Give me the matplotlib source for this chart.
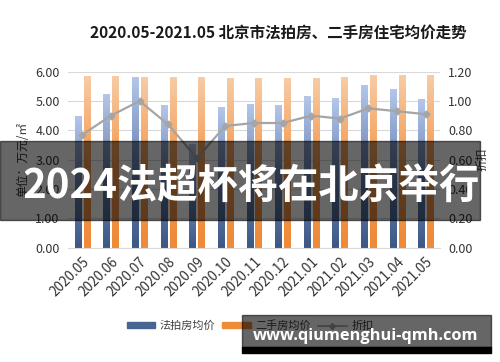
import numpy as np
import matplotlib
matplotlib.use('Agg')
import matplotlib.pyplot as plt
from matplotlib.colors import LinearSegmentedColormap
from matplotlib.lines import Line2D
from matplotlib.patches import Patch, Rectangle

plt.rcParams['font.family'] = ['Noto Sans CJK SC', 'DejaVu Sans']

# 数据
months = ['2020.05', '2020.06', '2020.07', '2020.08', '2020.09', '2020.10', '2020.11',
          '2020.12', '2021.01', '2021.02', '2021.03', '2021.04', '2021.05']
auction_price = [4.50, 5.25, 5.80, 4.87, 3.52, 4.80, 4.90, 4.86, 5.17, 5.09, 5.55, 5.41, 5.06]
resale_price = [5.86, 5.86, 5.82, 5.82, 5.80, 5.78, 5.78, 5.78, 5.78, 5.82, 5.87, 5.87, 5.89]
discount = [0.77, 0.90, 1.00, 0.84, 0.61, 0.83, 0.85, 0.85, 0.90, 0.88, 0.95, 0.93, 0.91]

title = '2020.05-2021.05 北京市法拍房、二手房住宅均价走势'
banner = '2024法超杯将在北京举行'
site = 'www.qiumenghui-qmh.com'

blue_cmap = LinearSegmentedColormap.from_list('b', ['#3e5886', '#6f88b6', '#b3c6ea'])
orange_cmap = LinearSegmentedColormap.from_list('o', ['#ee8a38', '#f39a50', '#f7cba6'])

fig = plt.figure(figsize=(5, 3.62), dpi=100)
ax = fig.add_axes([0.136, 0.316, 0.744, 0.486])
x = np.arange(len(months))
w = 0.21

# 渐变柱子
def gradient_bars(xs, heights, cmap):
    for xi, h in zip(xs, heights):
        grad = np.linspace(0, 1, 100).reshape(-1, 1)
        ax.imshow(grad, extent=[xi - w / 2, xi + w / 2, 0, h], origin='lower',
                  aspect='auto', cmap=cmap, zorder=2)

gradient_bars(x - 0.155, auction_price, blue_cmap)
gradient_bars(x + 0.155, resale_price, orange_cmap)

ax.set_xlim(-0.5, len(months) - 0.5)
ax.set_ylim(0, 6)
ax.set_yticks(np.arange(0, 7, 1))
ax.set_yticklabels(['%.2f' % v for v in np.arange(0, 7, 1)])
ax.set_xticks(x)
ax.set_xticklabels(months, rotation=45, ha='right', rotation_mode='anchor')
ax.tick_params(axis='both', length=0, labelsize=9, colors='#333333')
ax.tick_params(axis='x', pad=5, labelsize=9.8)
ax.tick_params(axis='y', pad=6)
ax.grid(axis='y', color='#d9d9d9', linewidth=0.8, zorder=0)
ax.set_axisbelow(True)
for s in ['top', 'right', 'left']:
    ax.spines[s].set_visible(False)
ax.spines['bottom'].set_color('#d9d9d9')
ax.set_ylabel('单位：万元/㎡', fontsize=8.5, color='#333333', labelpad=4)

ax2 = ax.twinx()
ax2.plot(x, discount, color='#a5a5a5', linewidth=1.6, marker='D', markersize=3.5, zorder=3)
ax2.set_ylim(0, 1.2)
ax2.set_yticks(np.arange(0, 1.21, 0.2))
ax2.set_yticklabels(['%.2f' % v for v in np.arange(0, 1.21, 0.2)])
ax2.tick_params(axis='y', length=0, labelsize=9, colors='#333333', pad=6)
for s in ['top', 'right', 'left', 'bottom']:
    ax2.spines[s].set_visible(False)
ax2.set_ylabel('折扣', fontsize=8.5, color='#333333', rotation=90, labelpad=2)

fig.text(0.557, 0.91, title, ha='center', va='center', fontsize=11.2,
         fontweight='bold', color='#1a1a1a')

handles = [Patch(color='#4a6491'), Patch(color='#ee8a38'),
           Line2D([0], [0], color='#a5a5a5', marker='D', markersize=3, linewidth=1.2)]
fig.legend(handles, ['法拍房均价', '二手房均价', '折扣'], loc='center',
           bbox_to_anchor=(0.5, 0.1), ncol=3, frameon=False, fontsize=8,
           handlelength=2.6, handleheight=0.4, columnspacing=0.6, handletextpad=0.4,
           labelcolor='#404040')

# 覆盖横幅
fig.patches.append(Rectangle((0, 1 - 220 / 362), 480 / 500, 79 / 362,
                             transform=fig.transFigure, color='black', alpha=0.6, zorder=10))
fig.text(0.502, 1 - 186 / 362, banner, ha='center', va='center', fontsize=29,
         fontweight='bold', color='white', zorder=11)
fig.patches.append(Rectangle((242 / 500, 1 - 347 / 362), 249 / 500, 32 / 362,
                             transform=fig.transFigure, color='black', alpha=0.6, zorder=10))
fig.patches.append(Rectangle((242 / 500, 1 - 353 / 362), 249 / 500, 6 / 362,
                             transform=fig.transFigure, color='black', zorder=10))
fig.text(0.731, 1 - 336 / 362, site, ha='center', va='center', fontsize=11.8,
         fontweight='bold', color='white', family=['Open Sans', 'DejaVu Sans'], zorder=11)

fig.savefig('out.png', dpi=100)
